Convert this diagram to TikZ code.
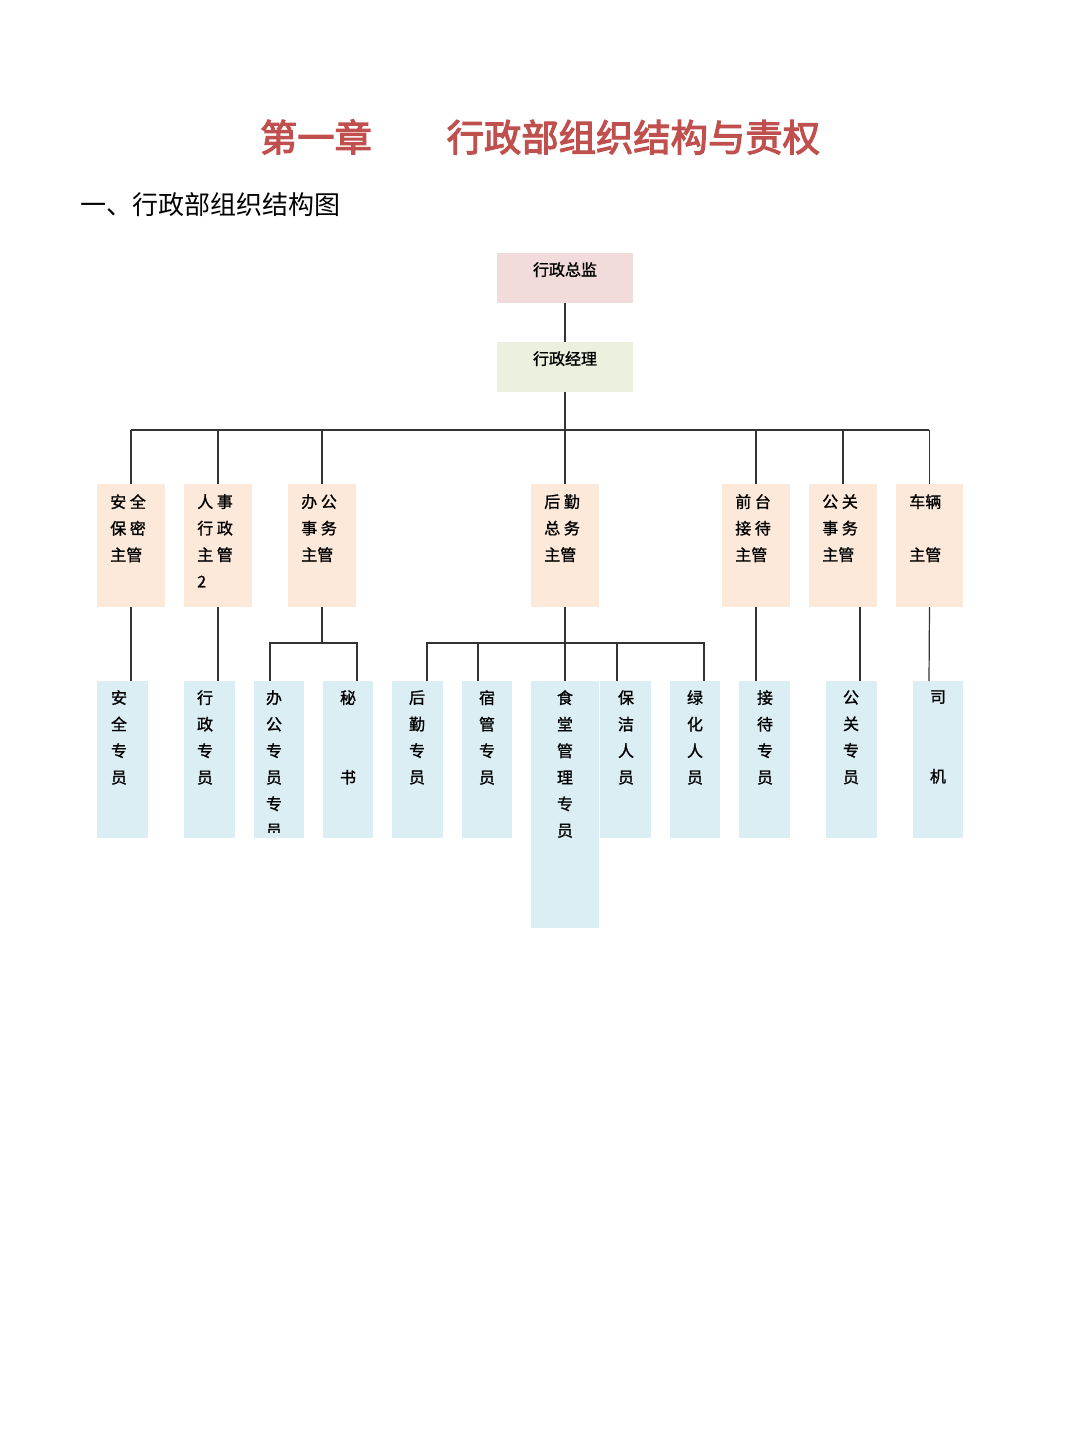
\documentclass[tikz,border=0pt]{standalone}
\usepackage{fontspec}
\newfontfamily\cjk{Noto Sans CJK SC}
\newfontfamily\cjkb[FakeBold=1.2]{Noto Sans CJK SC}
\newfontfamily\cjkt[FakeBold=3]{Noto Sans CJK SC}
\definecolor{pk}{HTML}{F2DCDB}
\definecolor{gr}{HTML}{EBF1DE}
\definecolor{pc}{HTML}{FDE9D9}
\definecolor{bl}{HTML}{DAEEF3}
\definecolor{tred}{HTML}{C0504D}
\tikzset{ln/.style={draw=black!80,line width=0.9pt},
 txt/.style={font=\cjkb\fontsize{12}{19.9}\selectfont,align=center,inner sep=0pt,anchor=north},
 mtxt/.style={font=\cjkb\fontsize{12}{19.9}\selectfont,align=left,inner sep=0pt,anchor=north west}}
\newcommand{\bx}[6]{% name x1 x2 y1 y2 color
 \fill[#6] (#2,#4) rectangle (#3,#5);
 \coordinate (#1) at ({(#2+#3)/2},#4);
 \coordinate (#1b) at ({(#2+#3)/2},#5);}
\begin{document}
\begin{tikzpicture}[x=0.75pt,y=-0.75pt]
\useasboundingbox (0,0) rectangle (1080,1439);
\node[font=\cjkt\fontsize{28}{30}\selectfont,text=tred] (title) at (540,137) {第一章\quad\quad 行政部组织结构与责权};
\node[font=\cjk\fontsize{19.5}{22}\selectfont,anchor=west,inner sep=0pt] (sub) at (80,205) {一、行政部组织结构图};
% top
\bx{t}{497}{633}{253}{303}{pk}
\node[txt] (tt) at (565,262) {行政总监};
\bx{m}{497}{633}{342}{392}{gr}
\node[txt] (mt) at (565,351) {行政经理};
\draw[ln] (tb) -- (m);
\coordinate (bus) at (565,430);
\draw[ln] (mb) -- (bus);
\draw[ln] (131,430) -- (929,430);
% mid boxes
\bx{a}{97}{165}{484}{607}{pc}
\bx{b}{184}{252}{484}{607}{pc}
\bx{c}{288}{356}{484}{607}{pc}
\bx{d}{531}{599}{484}{607}{pc}
\bx{e}{722}{790}{484}{607}{pc}
\bx{f}{809}{877}{484}{607}{pc}
\bx{g}{896}{963}{484}{607}{pc}
\foreach \n in {a,b,c,d,e,f,g}{\draw[ln] (\n |- bus) -- (\n);}
\node[mtxt] (at) at (110,494) {安~全\\保~密\\主管};
\node[mtxt] (bt) at (197,494) {人~事\\行~政\\主~管\\2};
\node[mtxt] (ct) at (301,494) {办~公\\事~务\\主管};
\node[mtxt] (dt) at (544,494) {后~勤\\总~务\\主管};
\node[mtxt] (et) at (735,494) {前~台\\接~待\\主管};
\node[mtxt] (ft) at (822,494) {公~关\\事~务\\主管};
\node[mtxt] (gt) at (909,494) {车辆\\\strut\\主管};
% bottom boxes
\bx{p1}{97}{148}{681}{838}{bl}
\bx{p2}{184}{235}{681}{838}{bl}
\bx{p3}{254}{304}{681}{838}{bl}
\bx{p4}{323}{373}{681}{838}{bl}
\bx{p5}{392}{443}{681}{838}{bl}
\bx{p6}{462}{512}{681}{838}{bl}
\bx{p7}{531}{599}{681}{928}{bl}
\bx{p8}{600}{651}{681}{838}{bl}
\bx{p9}{670}{720}{681}{838}{bl}
\bx{p10}{739}{790}{681}{838}{bl}
\bx{p11}{826}{877}{681}{838}{bl}
\bx{p12}{913}{963}{681}{838}{bl}
\node[txt] (q1) at (119,690) {安\\全\\专\\员};
\node[txt] (q2) at (205,690) {行\\政\\专\\员};
\begin{scope}
\clip (254,681) rectangle (304,832);
\node[txt] (q3) at (274,690) {办\\公\\专\\员\\专\\员};
\end{scope}
\node[txt] (q4) at (348,690) {秘\\\strut\\\strut\\书};
\node[txt] (q5) at (417,690) {后\\勤\\专\\员};
\node[txt] (q6) at (487,690) {宿\\管\\专\\员};
\node[txt] (q7) at (565,690) {食\\堂\\管\\理\\专\\员};
\node[txt] (q8) at (626,690) {保\\洁\\人\\员};
\node[txt] (q9) at (695,690) {绿\\化\\人\\员};
\node[txt] (q10) at (765,690) {接\\待\\专\\员};
\node[txt] (q11) at (851,690) {公\\关\\专\\员};
\node[txt] (q12) at (938,690) {司\\\strut\\\strut\\机};
% connectors
\draw[ln] (ab) -- (131,681);
\draw[ln] (bb) -- (218,681);
\coordinate (cbus) at (322,643);
\draw[ln] (cb) -- (cbus);
\draw[ln] (270,681) -- (270,643) -- (357,643) -- (357,681);
\coordinate (dbus) at (565,643);
\draw[ln] (db) -- (p7);
\draw[ln] (427,681) -- (427,643) -- (704,643) -- (704,681);
\draw[ln] (478,643) -- (478,681);
\draw[ln] (617,643) -- (617,681);
\draw[ln] (eb) -- (756,681);
\draw[ln] (860,607) -- (860,681);
\draw[ln] (gb) -- (929,681);
\end{tikzpicture}
\end{document}
